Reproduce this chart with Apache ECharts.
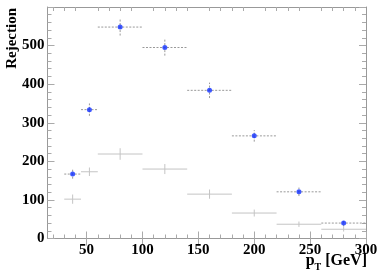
<!DOCTYPE html>
<html><head><meta charset="utf-8">
<script src="https://cdn.jsdelivr.net/npm/echarts@6/dist/echarts.min.js"></script>
<style>html,body{margin:0;padding:0;background:#fff}#c{width:382px;height:273px}</style>
</head><body><div id="c"></div>
<script>
const binLow  = [30, 45, 60, 100, 140, 180, 220, 260];
const binHigh = [45, 60, 100, 140, 180, 220, 260, 300];
const blueVals = [167, 334, 548, 495, 384, 266, 121, 40];
const blueErr  = [12, 16, 22, 21, 20, 15, 11, 9];
const grayVals = [102, 173, 219, 180, 115, 66, 37, 24];
const grayErr  = [12, 11, 15, 13, 12, 9, 7, 6];
const xMajorTicks = [50, 100, 150, 200, 250, 300];
const xMinorTicks = [20, 30, 40, 60, 70, 80, 90, 110, 120, 130, 140, 160, 170, 180, 190, 210, 220, 230, 240, 260, 270, 280, 290];

const font = 'Liberation Serif';
const frameColor = '#999';
const tickColor = '#aaa';

function mkData(vals, errs) {
  return vals.map((v, i) => [(binLow[i] + binHigh[i]) / 2, v, binLow[i], binHigh[i], errs[i]]);
}
function errRender(color, dash, width) {
  return function (params, api) {
    const x = api.value(0), y = api.value(1);
    const lo = api.value(2), hi = api.value(3), e = api.value(4);
    const pL = api.coord([lo, y]), pR = api.coord([hi, y]);
    const pB = api.coord([x, y - e]), pT = api.coord([x, y + e]);
    const st = { stroke: color, lineWidth: width, lineDash: dash };
    return { type: 'group', children: [
      { type: 'line', shape: { x1: pL[0], y1: pL[1], x2: pR[0], y2: pR[1] }, style: st },
      { type: 'line', shape: { x1: pB[0], y1: pB[1], x2: pT[0], y2: pT[1] }, style: st }
    ]};
  };
}
const gridRect = { left: 47.5, right: 16, top: 7, bottom: 34.5, containLabel: false, outerBoundsMode: 'none' };
const baseX = { type: 'value', min: 15, max: 300, splitLine: { show: false },
  axisLine: { show: true, lineStyle: { color: frameColor, width: 1 } } };
const chart = echarts.init(document.getElementById('c'), null, { renderer: 'canvas' });
chart.setOption({
  animation: false,
  grid: [Object.assign({}, gridRect), Object.assign({}, gridRect)],
  xAxis: [
    Object.assign({}, baseX, { gridIndex: 0, position: 'bottom',
      axisTick: { show: true, inside: true, length: 7, customValues: xMajorTicks, lineStyle: { color: tickColor } },
      axisLabel: { customValues: xMajorTicks, fontFamily: font, fontWeight: 'bold', fontSize: 15, color: '#000', margin: 4 } }),
    Object.assign({}, baseX, { gridIndex: 0, position: 'top',
      axisTick: { show: true, inside: true, length: 7, customValues: xMajorTicks, lineStyle: { color: tickColor } },
      axisLabel: { show: false } }),
    Object.assign({}, baseX, { gridIndex: 1, position: 'bottom',
      axisTick: { show: true, inside: true, length: 4, customValues: xMinorTicks, lineStyle: { color: tickColor } },
      axisLabel: { show: false } }),
    Object.assign({}, baseX, { gridIndex: 1, position: 'top',
      axisTick: { show: true, inside: true, length: 4, customValues: xMinorTicks, lineStyle: { color: tickColor } },
      axisLabel: { show: false } })
  ],
  yAxis: [
    { type: 'value', gridIndex: 0, position: 'left', min: 0, max: 600, interval: 100,
      splitLine: { show: false }, axisLine: { show: true, lineStyle: { color: frameColor } },
      axisTick: { show: true, inside: true, length: 7, lineStyle: { color: tickColor } },
      minorTick: { show: true, splitNumber: 5, length: 4, lineStyle: { color: tickColor } },
      axisLabel: { fontFamily: font, fontWeight: 'bold', fontSize: 15, color: '#000', margin: 3,
        formatter: v => (v >= 600 ? '' : String(v)) } },
    { type: 'value', gridIndex: 0, position: 'right', min: 0, max: 600, interval: 100,
      splitLine: { show: false }, axisLine: { show: true, lineStyle: { color: frameColor } },
      axisTick: { show: true, inside: true, length: 7, lineStyle: { color: tickColor } },
      minorTick: { show: true, splitNumber: 5, length: 4, lineStyle: { color: tickColor } },
      axisLabel: { show: false } },
    { type: 'value', gridIndex: 1, min: 0, max: 600, show: false }
  ],
  graphic: [
    { type: 'text', x: 12, y: 8, rotation: Math.PI / 2,
      style: { text: 'Rejection', fontFamily: font, fontWeight: 'bold', fontSize: 15, fill: '#000',
        align: 'right', verticalAlign: 'middle' } },
    { type: 'text', x: 367, y: 253,
      style: { text: '{p|p}{s|T}{g| [GeV]}', align: 'right', verticalAlign: 'top',
        rich: { p: { fontFamily: font, fontWeight: 'bold', fontSize: 16, fill: '#000', verticalAlign: 'top' },
                s: { fontFamily: font, fontWeight: 'bold', fontSize: 10, fill: '#000', verticalAlign: 'top', padding: [9, 0, 0, 0] },
                g: { fontFamily: font, fontWeight: 'bold', fontSize: 16, fill: '#000', verticalAlign: 'top' } } } }
  ],
  series: [
    { type: 'custom', xAxisIndex: 0, yAxisIndex: 0, renderItem: errRender('#c4c4c4', null, 1),
      data: mkData(grayVals, grayErr), z: 2 },
    { type: 'custom', xAxisIndex: 0, yAxisIndex: 0, renderItem: errRender('#999', [2, 1.5], 1),
      data: mkData(blueVals, blueErr), z: 3 },
    { type: 'scatter', xAxisIndex: 0, yAxisIndex: 0, symbol: 'circle', symbolSize: 5,
      itemStyle: { color: '#1030ff' }, data: mkData(blueVals, blueErr).map(d => [d[0], d[1]]), z: 4 }
  ]
});
</script></body></html>
